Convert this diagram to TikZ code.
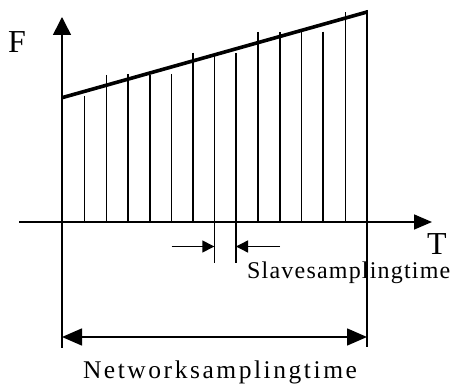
\documentclass[tikz,border=0pt]{standalone}
\usepackage{fontspec}
\setmainfont{Liberation Serif}
\newfontfamily\spacedfont[LetterSpace=5]{Liberation Serif}
\newfontfamily\widefont[LetterSpace=10]{Liberation Serif}
\usetikzlibrary{arrows.meta}

\begin{document}
\begin{tikzpicture}[x=1pt,y=-1pt,
	axis/.style={line width=1.6pt},
	bar/.style={line width=1.6pt},
	lbl/.style={inner sep=0pt,anchor=base west}]
	\useasboundingbox (0,0) rectangle (459,385);
	% axes
	\coordinate (ybot) at (62,348);
	\coordinate (ytop) at (62,17);
	\coordinate (xl) at (19,222);
	\coordinate (xr) at (432,222);
	\draw[axis,-{Triangle[length=18pt,width=18pt]}] (ybot)--(ytop);
	\draw[axis,-{Triangle[length=18pt,width=15pt]}] (xl)--(xr);
	% ramp and samples
	\coordinate (r0) at (62,97.7);
	\coordinate (r1) at (367,12);
	\draw[line width=3.6pt] (r0)--(r1);
	\draw[bar] (367,10)--(367,347);
	\foreach \x/\t/\b in {84.3/96/222, 106.3/75/222, 127.7/74/222, 149.7/75/222,
		171.3/74/222, 192.7/52.7/222, 214.3/56/263, 236/53.3/263, 258/32/222,
		280/32.3/222, 301.3/30.7/222, 323/31.7/222, 345.3/12.3/222}
		\draw[bar] (\x,\t)--(\x,\b);
	% slave sampling time
	\coordinate (sl0) at (171.7,246.5);
	\coordinate (sl1) at (214.3,246.5);
	\coordinate (sr0) at (280,246.5);
	\coordinate (sr1) at (236,246.5);
	\draw[line width=1.4pt,-{Triangle[length=12pt,width=12pt]}] (sl0)--(sl1);
	\draw[line width=1.4pt,-{Triangle[length=12pt,width=12pt]}] (sr0)--(sr1);
	% network sampling time
	\coordinate (nl) at (62,337);
	\coordinate (nr) at (367,337);
	\draw[line width=1.6pt,{Triangle[length=20pt,width=17pt]}-{Triangle[length=20pt,width=17pt]}] (nl)--(nr);
	% labels
	\node[lbl,font=\fontsize{32}{34}\selectfont] (F) at (8,53) {F};
	\node[lbl,font=\fontsize{32}{34}\selectfont] (T) at (427,255) {T};
	\node[lbl,font=\spacedfont\fontsize{24}{26}\selectfont] (slave) at (247,278.5) {Slavesamplingtime};
	\node[inner sep=0pt,anchor=base,font=\widefont\fontsize{25.5}{27}\selectfont] (net) at (220,379) {Networksamplingtime};
\end{tikzpicture}
\end{document}
